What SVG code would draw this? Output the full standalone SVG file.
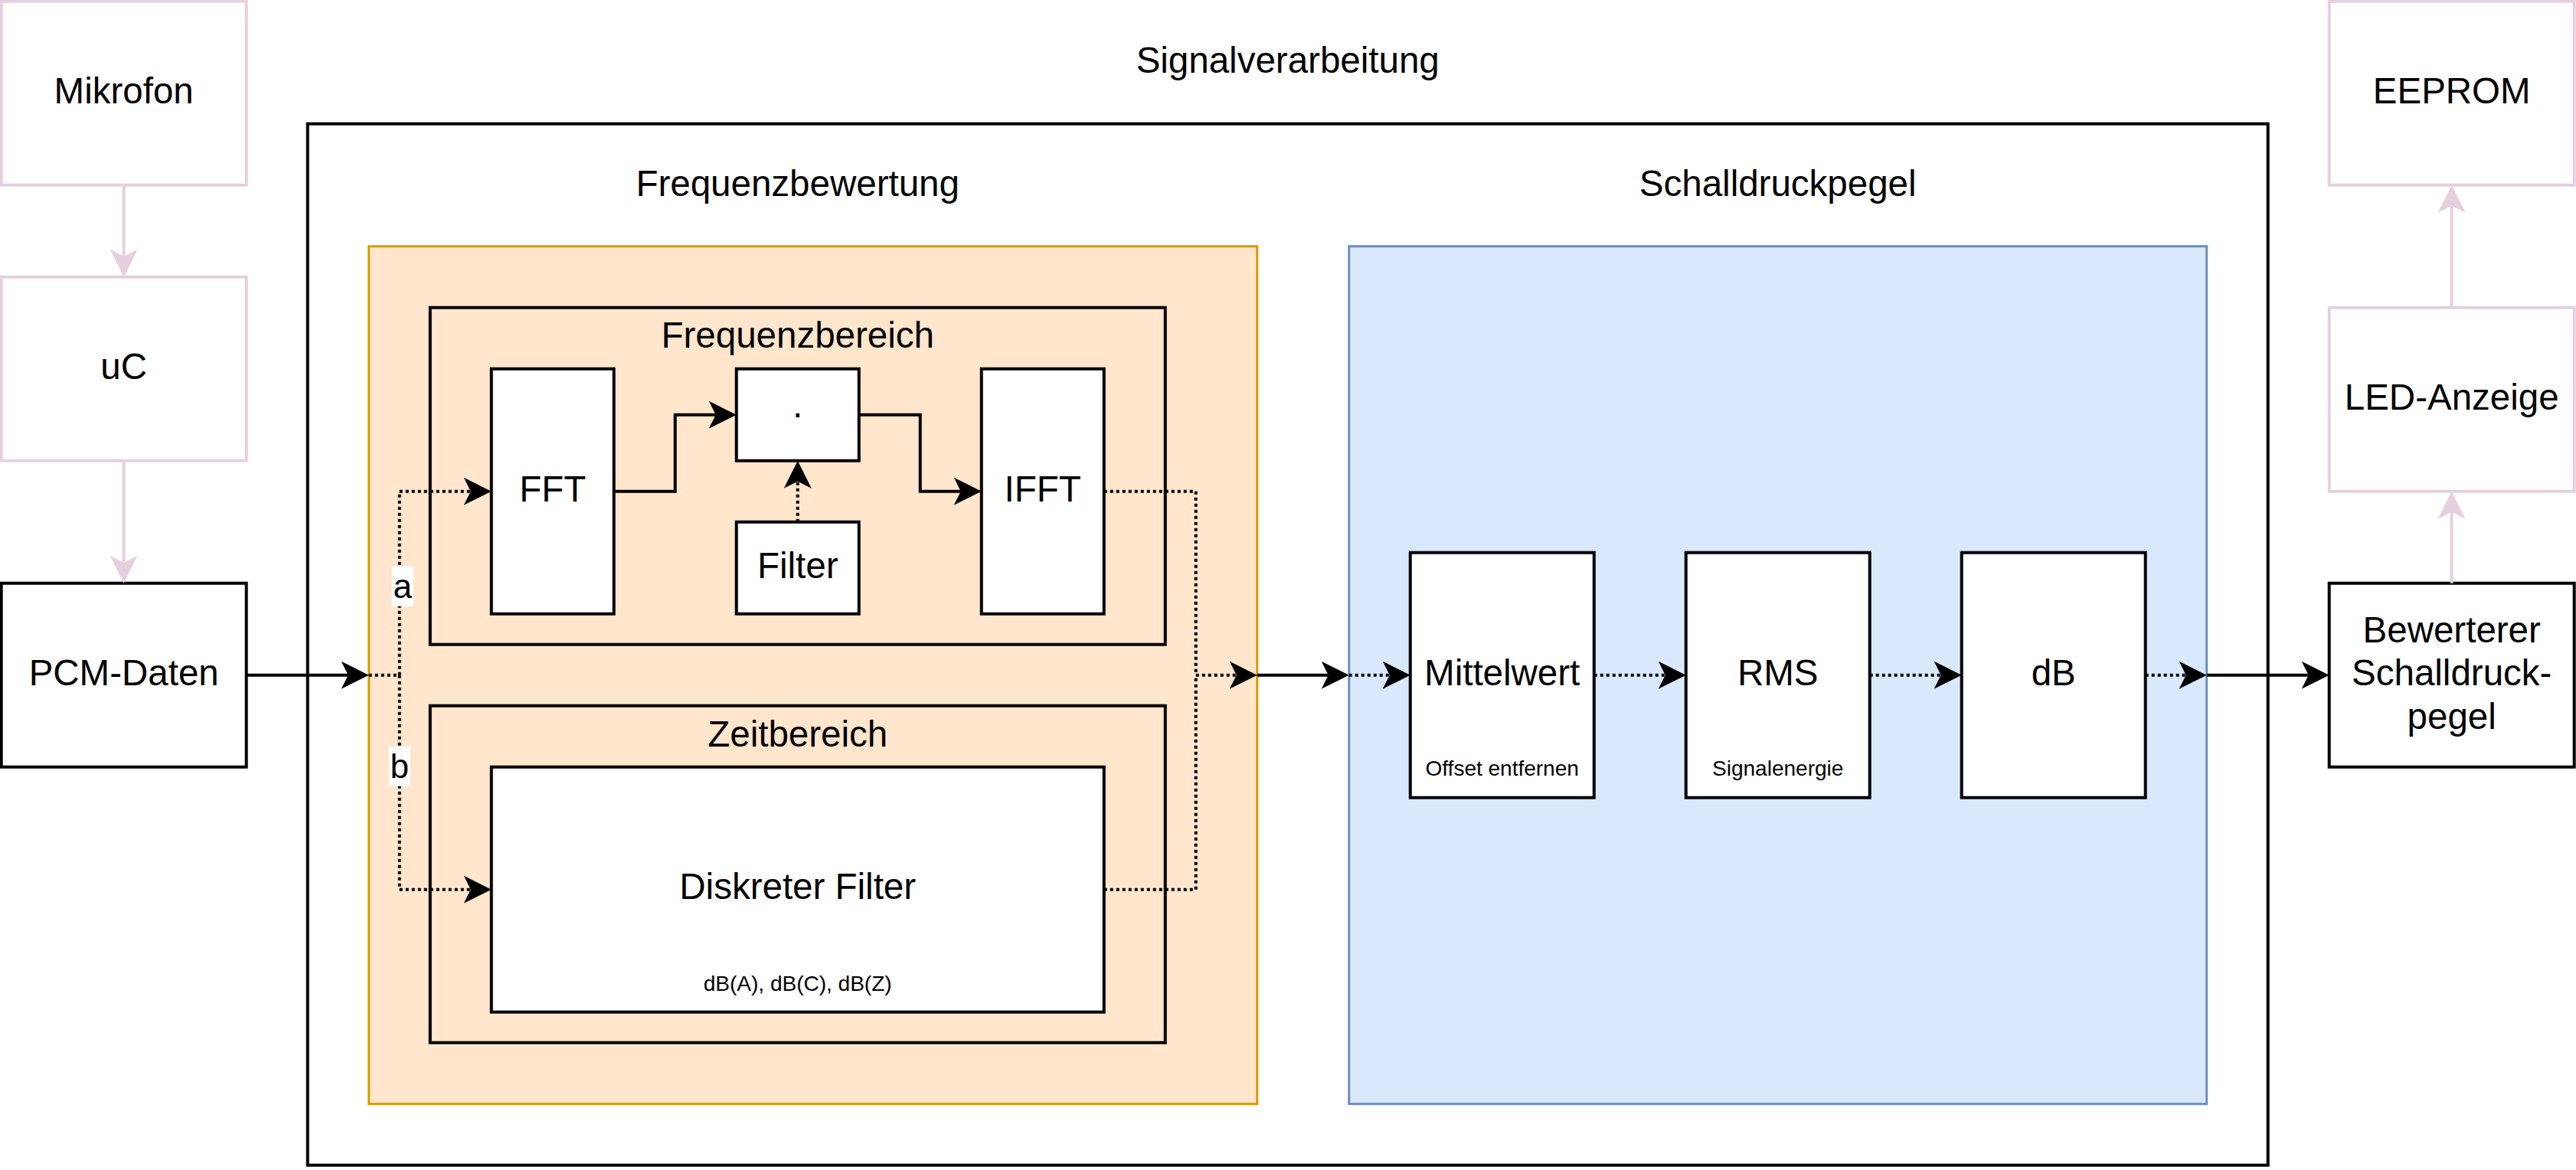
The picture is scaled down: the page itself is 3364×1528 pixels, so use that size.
<svg xmlns="http://www.w3.org/2000/svg" width="3364" height="1528" viewBox="0 0 3364 1528">
<style>
text{font-family:"Liberation Sans",Arial,Helvetica,sans-serif;fill:#000;text-anchor:middle}
.t{font-size:47.5px}
.s{font-size:28px}
.l{font-size:44px}
.box{fill:#fff;stroke:#000;stroke-width:4}
.frame{fill:none;stroke:#000;stroke-width:4}
.pink{fill:#fff;stroke:#e6d0de;stroke-width:4}
.orange{fill:#ffe6cc;stroke:#d79b00;stroke-width:3}
.blue{fill:#dae8fc;stroke:#6c8ebf;stroke-width:3}
.c{fill:none;stroke:#000;stroke-width:4}
.d{fill:none;stroke:#000;stroke-width:4;stroke-dasharray:4 4}
.cp{fill:none;stroke:#e6d0de;stroke-width:4}
.ab{marker-end:url(#arrB)}
.ap{marker-end:url(#arrP)}
</style>
<defs>
<marker id="arrB" viewBox="-9 -18 36 36" refX="0" refY="0" markerWidth="36" markerHeight="36" markerUnits="userSpaceOnUse" orient="auto">
<path d="M27,0 L-9,-18 L0,0 L-9,18 Z" fill="#000" stroke="none"/>
</marker>
<marker id="arrP" viewBox="-9 -18 36 36" refX="0" refY="0" markerWidth="36" markerHeight="36" markerUnits="userSpaceOnUse" orient="auto">
<path d="M27,0 L-9,-18 L0,0 L-9,18 Z" fill="#e6d0de" stroke="none"/>
</marker>
</defs>
<rect width="3364" height="1528" fill="#fff"/>
<g transform="translate(1.7,1.7)">
<g id="signalverarbeitung">
<rect class="frame" x="400" y="160" width="2560" height="1360"/>
<text class="t" x="1680" y="93">Signalverarbeitung</text>
</g>
<g id="frequenzbewertung">
<rect class="orange" x="480" y="320" width="1160" height="1120"/>
<text class="t" x="1040" y="254">Frequenzbewertung</text>
</g>
<g id="schalldruckpegel">
<rect class="blue" x="1760" y="320" width="1120" height="1120"/>
<text class="t" x="2320" y="254">Schalldruckpegel</text>
</g>
<g id="frequenzbereich">
<rect class="frame" x="560" y="400" width="960" height="440"/>
<text class="t" x="1040" y="452">Frequenzbereich</text>
</g>
<g id="zeitbereich">
<rect class="frame" x="560" y="920" width="960" height="440"/>
<text class="t" x="1040" y="973">Zeitbereich</text>
</g>
<g id="mikrofon">
<rect class="pink" x="0" y="0" width="320" height="240"/>
<text class="t" x="160" y="133">Mikrofon</text>
</g>
<g id="uc">
<rect class="pink" x="0" y="360" width="320" height="240"/>
<text class="t" x="160" y="493">uC</text>
</g>
<g id="pcm">
<rect class="box" x="0" y="760" width="320" height="240"/>
<text class="t" x="160" y="893">PCM-Daten</text>
</g>
<g id="fft">
<rect class="box" x="640" y="480" width="160" height="320"/>
<text class="t" x="720" y="653">FFT</text>
</g>
<g id="mult">
<rect class="box" x="960" y="480" width="160" height="120"/>
<text class="t" x="1040" y="554">·</text>
</g>
<g id="filter">
<rect class="box" x="960" y="680" width="160" height="120"/>
<text class="t" x="1040" y="753">Filter</text>
</g>
<g id="ifft">
<rect class="box" x="1280" y="480" width="160" height="320"/>
<text class="t" x="1360" y="653">IFFT</text>
</g>
<g id="diskreter-filter">
<rect class="box" x="640" y="1000" width="800" height="320"/>
<text class="t" x="1040" y="1172">Diskreter Filter</text>
<text class="s" x="1040" y="1292">dB(A), dB(C), dB(Z)</text>
</g>
<g id="mittelwert">
<rect class="box" x="1840" y="720" width="240" height="320"/>
<text class="t" x="1960" y="893">Mittelwert</text>
<text class="s" x="1960" y="1011">Offset entfernen</text>
</g>
<g id="rms">
<rect class="box" x="2200" y="720" width="240" height="320"/>
<text class="t" x="2320" y="893">RMS</text>
<text class="s" x="2320" y="1011">Signalenergie</text>
</g>
<g id="db">
<rect class="box" x="2560" y="720" width="240" height="320"/>
<text class="t" x="2680" y="893">dB</text>
</g>
<g id="bewerteter">
<rect class="box" x="3040" y="760" width="320" height="240"/>
<text class="t" x="3200" y="837">Bewerterer</text>
<text class="t" x="3200" y="893">Schalldruck-</text>
<text class="t" x="3200" y="950">pegel</text>
</g>
<g id="led">
<rect class="pink" x="3040" y="400" width="320" height="240"/>
<text class="t" x="3200" y="533">LED-Anzeige</text>
</g>
<g id="eeprom">
<rect class="pink" x="3040" y="0" width="320" height="240"/>
<text class="t" x="3200" y="133">EEPROM</text>
</g>
<g id="connectors">
<path class="cp ap" d="M160,240 V333"/>
<path class="cp ap" d="M160,600 V733"/>
<path class="c ab" d="M320,880 H453"/>
<path class="d ab" d="M480,880 H520 V640 H613"/>
<path class="d ab" d="M520,880 V1160 H613"/>
<path class="c ab" d="M800,640 H880 V540 H933"/>
<path class="c ab" d="M1120,540 H1200 V640 H1253"/>
<path class="d ab" d="M1040,680 V627"/>
<path class="d ab" d="M1440,640 H1560 V880 H1613"/>
<path class="d" d="M1440,1160 H1560 V880"/>
<path class="c ab" d="M1640,880 H1733"/>
<path class="d ab" d="M1760,880 H1813"/>
<path class="d ab" d="M2080,880 H2173"/>
<path class="d ab" d="M2440,880 H2533"/>
<path class="d ab" d="M2800,880 H2853"/>
<path class="c ab" d="M2880,880 H3013"/>
<path class="cp ap" d="M3200,760 V667"/>
<path class="cp ap" d="M3200,400 V267"/>
<rect x="510" y="738" width="28" height="52" fill="#fff"/>
<text class="l" x="524" y="779">a</text>
<rect x="506" y="973" width="28" height="52" fill="#fff"/>
<text class="l" x="520" y="1014">b</text>
</g>
</g>
</svg>
